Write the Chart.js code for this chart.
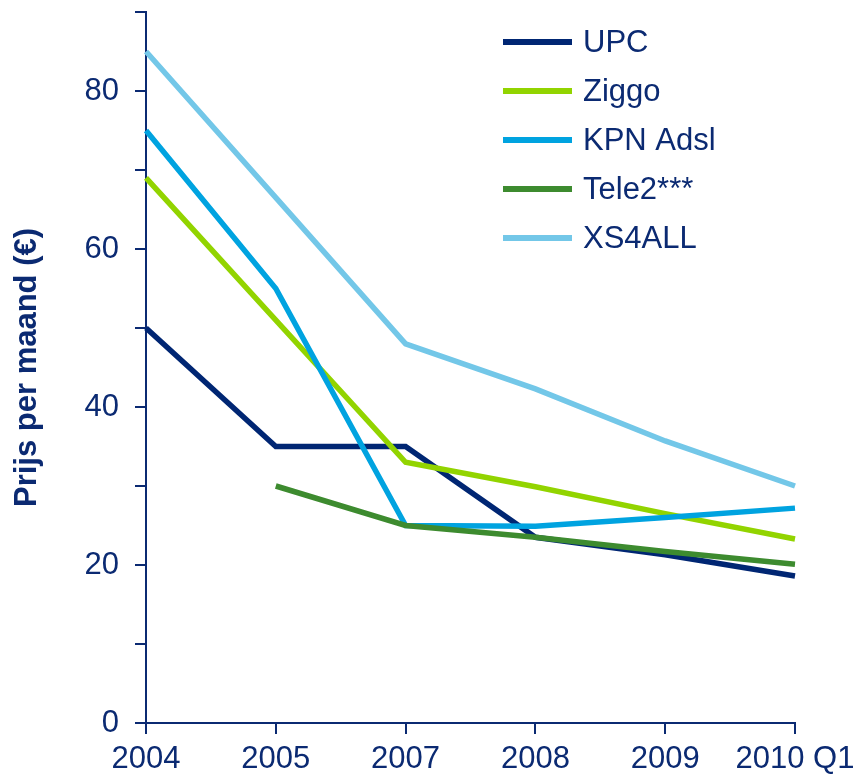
<!DOCTYPE html>
<html>
<head>
<meta charset="utf-8">
<script src="https://cdn.jsdelivr.net/npm/chart.js@4/dist/chart.umd.min.js"></script>
<style>
  body { margin: 0; background: #fff; }
  canvas { display: block; }
</style>
</head>
<body>
<canvas id="prijsChart" width="854" height="777"></canvas>
<script>
const years = ['2004', '2005', '2007', '2008', '2009', '2010 Q1'];

const upc = [50, 35, 35, 23.5, 21.3, 18.6];
const ziggo = [69, 51, 33, 29.9, 26.5, 23.3];
const kpnAdsl = [75, 55, 25, 24.9, 26.0, 27.2];
const tele2 = [null, 30, 25, 23.5, 21.7, 20.1];
const xs4all = [85, 66.5, 48, 42.3, 35.7, 30];

const navy = '#0b2a72';

const series = [
    { label: 'UPC', data: upc, color: '#002673' },
    { label: 'Ziggo', data: ziggo, color: '#92d400' },
    { label: 'KPN Adsl', data: kpnAdsl, color: '#00a3e0' },
    { label: 'Tele2***', data: tele2, color: '#3d8b2f' },
    { label: 'XS4ALL', data: xs4all, color: '#73c7e8' }
];

// legend drawn by hand, top right like the original
const legendPlugin = {
    id: 'sideLegend',
    afterDraw(chart) {
        const ctx = chart.ctx;
        ctx.save();
        ctx.font = '31px "Liberation Sans", Arial, sans-serif';
        ctx.textBaseline = 'middle';
        ctx.textAlign = 'left';
        series.forEach((s, i) => {
            const y = 42 + i * 49;
            ctx.strokeStyle = s.color;
            ctx.lineWidth = 6;
            ctx.beginPath();
            ctx.moveTo(503, y);
            ctx.lineTo(572, y);
            ctx.stroke();
            ctx.fillStyle = navy;
            ctx.fillText(s.label, 583, y + 1);
        });
        ctx.restore();
    }
};

const ctx = document.getElementById('prijsChart').getContext('2d');
new Chart(ctx, {
    type: 'line',
    data: {
        labels: years,
        datasets: series.map((s, i) => ({
            label: s.label,
            data: s.data,
            borderColor: s.color,
            backgroundColor: s.color,
            borderWidth: 5.5,
            tension: 0,
            pointRadius: 0,
            fill: false,
            order: series.length - i
        }))
    },
    options: {
        responsive: false,
        animation: false,
        layout: { padding: { top: 12, right: 59, left: 0, bottom: 0 } },
        plugins: {
            legend: { display: false },
            tooltip: { enabled: false }
        },
        scales: {
            x: {
                offset: false,
                afterFit: (scale) => {
                    scale.height = 54;
                    scale.paddingLeft = 0;
                    scale.paddingRight = 0;
                },
                grid: {
                    drawOnChartArea: false,
                    drawTicks: true,
                    tickLength: 11,
                    color: navy,
                    lineWidth: 2
                },
                border: { display: true, color: navy, width: 2 },
                ticks: {
                    color: navy,
                    font: { family: '"Liberation Sans", Arial, sans-serif', size: 31 },
                    padding: 7,
                    maxRotation: 0,
                    autoSkip: false
                }
            },
            y: {
                min: 0,
                max: 90,
                afterFit: (scale) => {
                    scale.width = 146;
                    scale.paddingTop = 0;
                    scale.paddingBottom = 0;
                },
                grid: {
                    drawOnChartArea: false,
                    drawTicks: true,
                    tickLength: 11,
                    color: navy,
                    lineWidth: 2
                },
                border: { display: true, color: navy, width: 2 },
                ticks: {
                    stepSize: 10,
                    color: navy,
                    font: { family: '"Liberation Sans", Arial, sans-serif', size: 31 },
                    padding: 16,
                    callback: (v) => (v % 20 === 0 && v < 90 ? v : '')
                },
                title: {
                    display: true,
                    text: 'Prijs per maand (€)',
                    color: navy,
                    font: { family: '"Liberation Sans", Arial, sans-serif', size: 31, weight: 'bold' },
                    padding: { top: 9, bottom: 0 }
                }
            }
        }
    },
    plugins: [legendPlugin]
});
</script>
</body>
</html>
